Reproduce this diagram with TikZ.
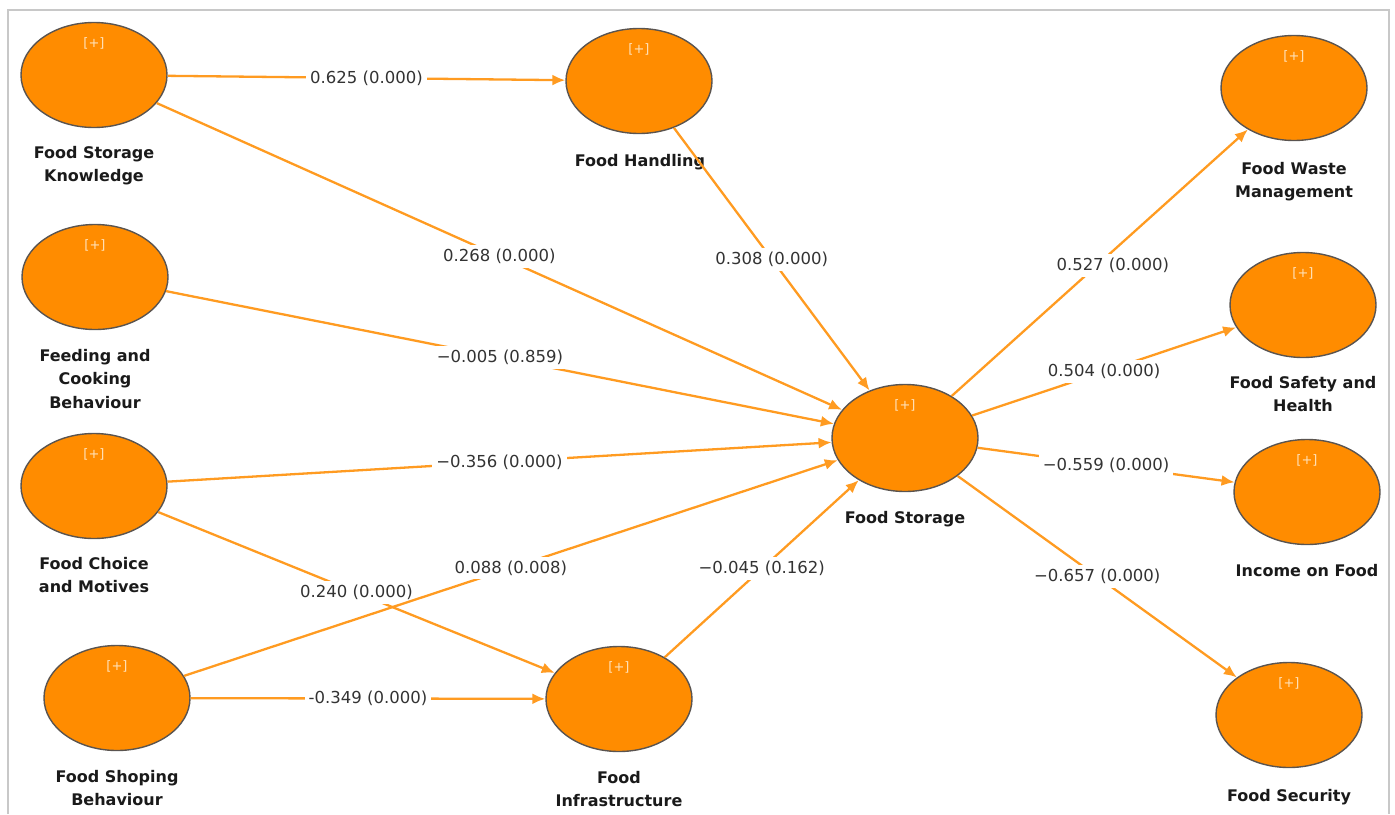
\documentclass[tikz,border=0pt]{standalone}
\usepackage{fontspec}
\setmainfont{DejaVu Sans}
\usetikzlibrary{shapes.geometric,arrows.meta}
\definecolor{nodeor}{HTML}{FF8C00}
\definecolor{edgeor}{HTML}{FF9B21}
\definecolor{rimgr}{HTML}{5A5450}
\definecolor{plusc}{HTML}{FFE2BA}
\definecolor{framegr}{HTML}{C8C8C8}
\definecolor{nametxt}{HTML}{1A1A1A}
\definecolor{valtxt}{HTML}{333333}
\begin{document}
\begin{tikzpicture}[x=1pt,y=-1pt,
  latent/.style={ellipse,draw=rimgr,line width=1.4pt,fill=nodeor,minimum width=146pt,minimum height=105pt,inner sep=0pt,
    label={[font=\fontsize{13}{15}\selectfont,text=plusc,label distance=-31pt]90:{[+]}}},
  nm/.style={font=\bfseries\fontsize{16}{23.5}\selectfont,text=nametxt,align=center,anchor=north,inner sep=0pt},
  path/.style={draw=edgeor,line width=2.3pt,-{Latex[length=13pt,width=11pt]}},
  val/.style={fill=white,text=valtxt,font=\fontsize{16.5}{19}\selectfont,inner sep=4pt,pos=0.5}
]
\useasboundingbox (0,0) rectangle (1395,814);
\draw[framegr,line width=1.3pt] (8,814) -- (8,10) -- (1389,10) -- (1389,814);

% latent variables
\node[latent] (fsk)  at (94,75)   {};
\node[latent] (fh)   at (639,81)  {};
\node[latent] (fwm)  at (1294,88) {};
\node[latent] (fcb)  at (95,277)  {};
\node[latent] (fsh)  at (1303,305){};
\node[latent,minimum height=107pt] (fs) at (905,438) {};
\node[latent] (fcm)  at (94,486)  {};
\node[latent] (inc)  at (1307,492){};
\node[latent] (fsb)  at (117,698) {};
\node[latent] (fi)   at (619,699) {};
\node[latent] (fsec) at (1289,715){};

% names
\node[nm] (nfsk)  at (94,146)   {Food Storage\\Knowledge};
\node[nm] (nfh)   at (640,154)  {Food Handling};
\node[nm] (nfwm)  at (1294,162) {Food Waste\\Management};
\node[nm] (nfcb)  at (95,349)   {Feeding and\\Cooking\\Behaviour};
\node[nm] (nfsh)  at (1303,376) {Food Safety and\\Health};
\node[nm] (nfcm)  at (94,557)   {Food Choice\\and Motives};
\node[nm] (nfs)   at (905,511)  {Food Storage};
\node[nm] (ninc)  at (1307,564) {Income on Food};
\node[nm] (nfsb)  at (117,770)  {Food Shoping\\Behaviour};
\node[nm] (nfi)   at (619,771)  {Food\\Infrastructure};
\node[nm] (nfsec) at (1289,789) {Food Security};

% paths
\draw[path] (fsk) -- node[val] (l1) {0.625 (0.000)} (fh);
\draw[path] (fsk) -- node[val] (l2) {0.268 (0.000)} (fs);
\draw[path] (fh)  -- node[val] (l3) {0.308 (0.000)} (fs);
\draw[path] (fcb) -- node[val] (l4) {−0.005 (0.859)} (fs);
\draw[path] (fcm) -- node[val] (l5) {−0.356 (0.000)} (fs);
\draw[path] (fcm) -- node[val] (l6) {0.240 (0.000)} (fi);
\draw[path] (fsb) -- node[val] (l7) {0.088 (0.008)} (fs);
\draw[path] (fsb) -- node[val] (l8) {-0.349 (0.000)} (fi);
\draw[path] (fi)  -- node[val] (l9) {−0.045 (0.162)} (fs);
\draw[path] (fs)  -- node[val,pos=0.49,xshift=16pt] (l10) {0.527 (0.000)} (fwm);
\draw[path] (fs)  -- node[val] (l11) {0.504 (0.000)} (fsh);
\draw[path] (fs)  -- node[val] (l12) {−0.559 (0.000)} (inc);
\draw[path] (fs)  -- node[val] (l13) {−0.657 (0.000)} (fsec);
\end{tikzpicture}
\end{document}
